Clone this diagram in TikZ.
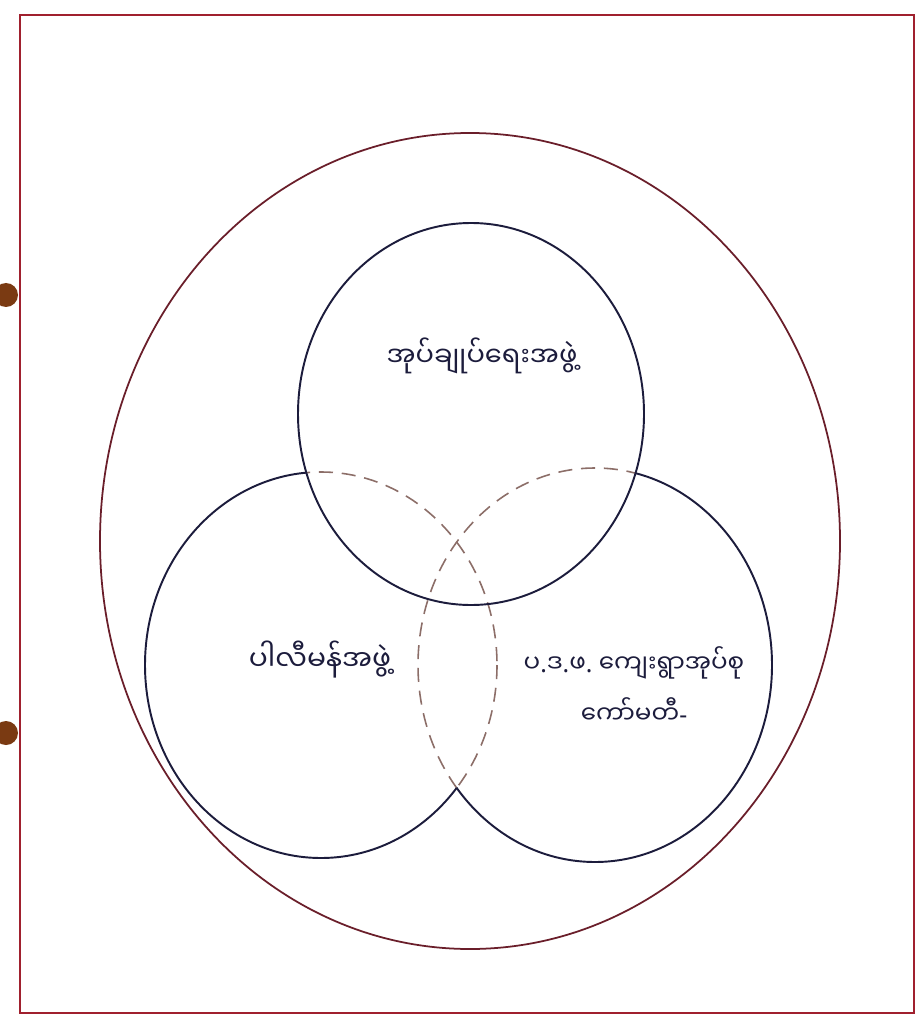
\documentclass[tikz,border=0pt]{standalone}
\usepackage{fontspec}
\newfontfamily\mya[Script=Myanmar]{Noto Sans Myanmar UI}
\newfontfamily\latf{Noto Sans}
\definecolor{framecol}{HTML}{A0202E}
\definecolor{outercol}{HTML}{6A1E2A}
\definecolor{ink}{HTML}{1C1C3C}
\definecolor{dashcol}{HTML}{8C6E68}
\definecolor{punch}{HTML}{7A3A12}
\newcommand\pt{{\latf.}}
\begin{document}
\begin{tikzpicture}[x=0.02cm,y=-0.02cm,
  solidline/.style={draw=ink,line width=1.1pt},
  dashline/.style={draw=dashcol,line width=0.9pt,dash pattern=on 8pt off 5pt},
  lbl/.style={text=ink,align=center}]
\useasboundingbox (0,0) rectangle (918,1020);
\fill[white] (0,0) rectangle (918,1020);
% punch holes
\fill[punch] (6,295) circle [radius=12];
\fill[punch] (6,733) circle [radius=12];
% page frame
\draw[framecol,line width=1.6pt] (20,15) -- (914,15) -- (914,1013) -- (20,1013) -- cycle;
% outer ellipse
\draw[outercol,line width=1pt] (470,541) ellipse [x radius=370,y radius=408];
% centres
\coordinate (ct) at (471,414);
\coordinate (cl) at (321,665);
\coordinate (cr) at (595,665);
% dashed hidden parts of left circle
\begin{scope}
  \clip (ct) ellipse [x radius=173,y radius=191] (cr) ellipse [x radius=177,y radius=197];
  \draw[dashline] (cl) ellipse [x radius=176,y radius=193];
\end{scope}
% dashed hidden parts of right circle
\begin{scope}
  \clip (ct) ellipse [x radius=173,y radius=191] (cl) ellipse [x radius=176,y radius=193];
  \draw[dashline] (cr) ellipse [x radius=177,y radius=197];
\end{scope}
% solid visible parts of left circle
\begin{scope}[even odd rule]
  \clip (-20,-20) rectangle (940,1040) (ct) ellipse [x radius=173,y radius=191];
  \begin{scope}[even odd rule]
    \clip (-20,-20) rectangle (940,1040) (cr) ellipse [x radius=177,y radius=197];
    \draw[solidline] (cl) ellipse [x radius=176,y radius=193];
  \end{scope}
\end{scope}
% solid visible parts of right circle
\begin{scope}[even odd rule]
  \clip (-20,-20) rectangle (940,1040) (ct) ellipse [x radius=173,y radius=191];
  \begin{scope}[even odd rule]
    \clip (-20,-20) rectangle (940,1040) (cl) ellipse [x radius=176,y radius=193];
    \draw[solidline] (cr) ellipse [x radius=177,y radius=197];
  \end{scope}
\end{scope}
% top circle
\draw[solidline] (ct) ellipse [x radius=173,y radius=191];
% labels
\node[lbl,font=\mya\fontsize{15.5}{22}\selectfont] (toplabel) at (482,356) {အုပ်ချုပ်ရေးအဖွဲ့};
\node[lbl,font=\mya\fontsize{16}{22}\selectfont] (leftlabel) at (320,660) {ပါလီမန်အဖွဲ့};
\node[lbl,font=\mya\fontsize{14}{29}\selectfont] (rightlabel) at (634,685) {ပ\pt ဒ\pt ဖ\pt\ ကျေးရွာအုပ်စု\\ကော်မတီ{\latf-}};
\end{tikzpicture}
\end{document}
